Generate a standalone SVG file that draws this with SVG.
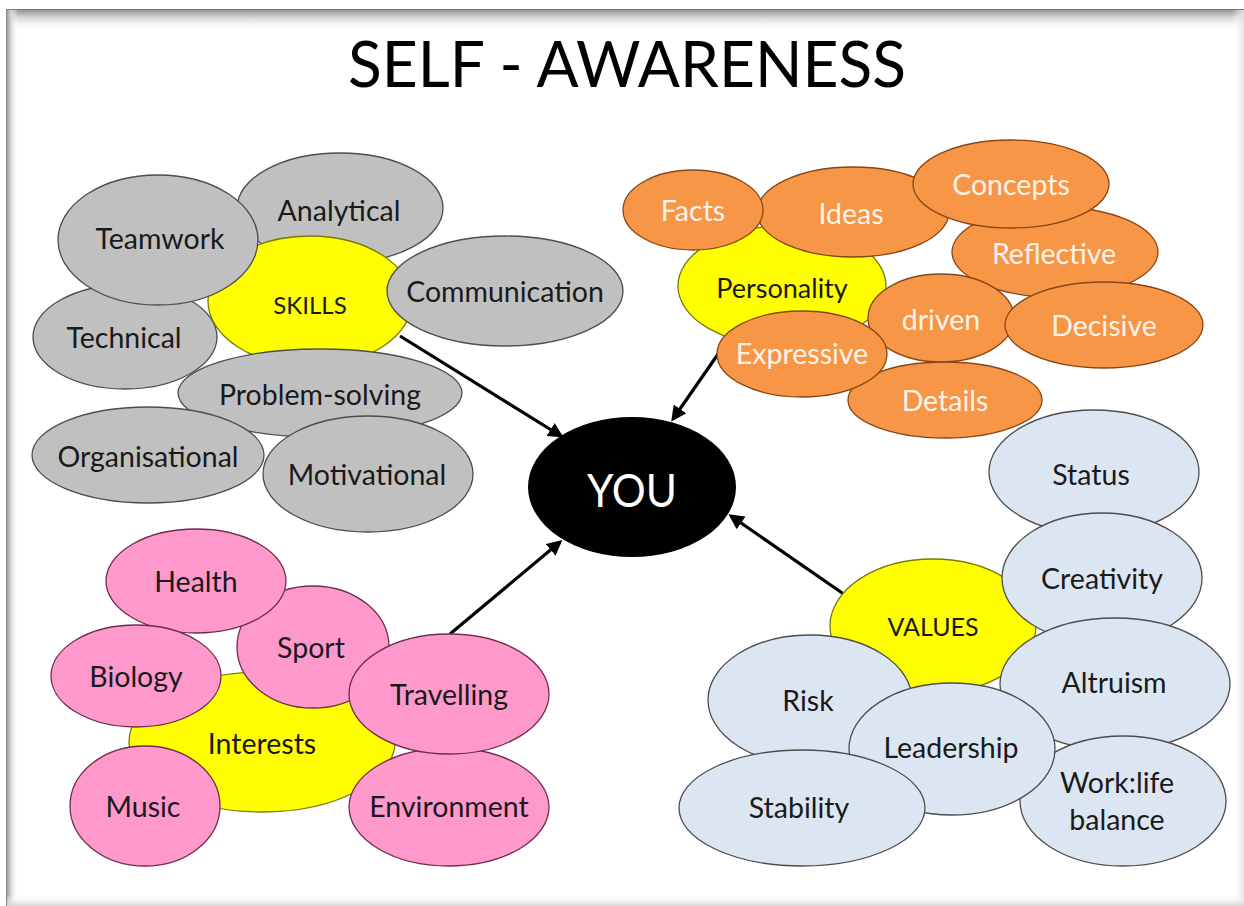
<svg xmlns="http://www.w3.org/2000/svg" width="1244" height="906" viewBox="0 0 1244 906">
  <defs>
    <style>
      text { font-family: Lato, "Liberation Sans", sans-serif; text-anchor: middle; dominant-baseline: central; }
      .lbl { font-size: 28.5px; fill: #1a1a1a; }
      .hub-lbl { font-size: 24px; fill: #1a1a1a; }
      .wlbl { font-size: 28.5px; fill: #fdf3ea; }
      .skill { fill: #c0c0c0; stroke: #4d4d4d; stroke-width: 1.3; }
      .pers { fill: #f79646; stroke: #8a4516; stroke-width: 1.3; }
      .intr { fill: #ff99cc; stroke: #6e2d4e; stroke-width: 1.3; }
      .val { fill: #dce6f2; stroke: #4d4d4d; stroke-width: 1.3; }
      .hub { fill: #ffff00; stroke: #7a7a10; stroke-width: 1.3; }
      .conn line { stroke: #000; stroke-width: 3.2; marker-end: url(#arrow); }
    </style>
    <marker id="arrow" viewBox="0 0 10 10" refX="8" refY="5" markerWidth="4.8" markerHeight="4.8" orient="auto" markerUnits="strokeWidth">
      <path d="M0,0 L10,5 L0,10 z" fill="#000"/>
    </marker>
    <linearGradient id="shTop" x1="0" y1="0" x2="0" y2="1">
      <stop offset="0" stop-color="#8c8c8c"/>
      <stop offset="0.35" stop-color="#d0d0d0"/>
      <stop offset="1" stop-color="#ffffff" stop-opacity="0"/>
    </linearGradient>
    <linearGradient id="shLeft" x1="0" y1="0" x2="1" y2="0">
      <stop offset="0" stop-color="#909090"/>
      <stop offset="0.4" stop-color="#d4d4d4"/>
      <stop offset="1" stop-color="#ffffff" stop-opacity="0"/>
    </linearGradient>
    <linearGradient id="shRight" x1="1" y1="0" x2="0" y2="0">
      <stop offset="0" stop-color="#e2e2e2"/>
      <stop offset="1" stop-color="#ffffff" stop-opacity="0"/>
    </linearGradient>
    <linearGradient id="shBottom" x1="0" y1="1" x2="0" y2="0">
      <stop offset="0" stop-color="#d8d8d8"/>
      <stop offset="1" stop-color="#ffffff" stop-opacity="0"/>
    </linearGradient>
  </defs>

  <!-- page and inset frame shadow -->
  <rect width="1244" height="906" fill="#ffffff"/>
  <rect x="6" y="9" width="1238" height="22" fill="url(#shTop)"/>
  <rect x="6" y="9" width="12" height="897" fill="url(#shLeft)"/>
  <rect x="1232" y="9" width="12" height="897" fill="url(#shRight)"/>
  <rect x="6" y="894" width="1238" height="12" fill="url(#shBottom)"/>
  <line x1="6" y1="9.5" x2="1244" y2="9.5" stroke="#7a7a7a" stroke-width="1"/>
  <line x1="6.5" y1="9" x2="6.5" y2="906" stroke="#8a8a8a" stroke-width="1"/>

  <text id="title" x="627" y="62" font-size="64" fill="#000" textLength="558" lengthAdjust="spacingAndGlyphs">SELF - AWARENESS</text>

  <!-- connectors -->
  <g id="connectors" class="conn">
    <line x1="400" y1="336" x2="561" y2="436"/>
    <line x1="725" y1="344" x2="673" y2="419"/>
    <line x1="450" y1="634" x2="560" y2="542"/>
    <line x1="848" y1="597" x2="731" y2="516"/>
  </g>

  <!-- skills cluster -->
  <g id="skills-cluster">
    <g id="analytical"><ellipse class="skill" cx="340" cy="208" rx="103" ry="55"/><text class="lbl" x="339" y="210">Analytical</text></g>
    <g id="technical"><ellipse class="skill" cx="125" cy="337" rx="92" ry="52"/><text class="lbl" x="124" y="337">Technical</text></g>
    <g id="skills"><ellipse class="hub" cx="310" cy="301" rx="102" ry="65"/><text class="hub-lbl" x="310" y="304">SKILLS</text></g>
    <g id="teamwork"><ellipse class="skill" cx="158" cy="240" rx="100" ry="65"/><text class="lbl" x="160" y="238">Teamwork</text></g>
    <g id="communication"><ellipse class="skill" cx="505" cy="291" rx="118" ry="55"/><text class="lbl" x="505" y="291">Communication</text></g>
    <g id="problem-solving"><ellipse class="skill" cx="320" cy="393" rx="142" ry="44"/><text class="lbl" x="320" y="394">Problem-solving</text></g>
    <g id="organisational"><ellipse class="skill" cx="148" cy="455" rx="116" ry="48"/><text class="lbl" x="148" y="456">Organisational</text></g>
    <g id="motivational"><ellipse class="skill" cx="368" cy="474" rx="105" ry="58"/><text class="lbl" x="367" y="474">Motivational</text></g>
  </g>

  <!-- personality cluster -->
  <g id="personality-cluster">
    <g id="personality"><ellipse class="hub" cx="782" cy="286" rx="104" ry="60"/><text class="lbl" x="782" y="287" style="font-size:27px">Personality</text></g>
    <g id="details"><ellipse class="pers" cx="945" cy="400" rx="97" ry="38"/><text class="wlbl" x="945" y="400">Details</text></g>
    <g id="reflective"><ellipse class="pers" cx="1055" cy="252" rx="103" ry="45"/><text class="wlbl" x="1054" y="253">Reflective</text></g>
    <g id="ideas"><ellipse class="pers" cx="853" cy="212" rx="96" ry="45"/><text class="wlbl" x="851" y="213">Ideas</text></g>
    <g id="facts"><ellipse class="pers" cx="693" cy="210" rx="70" ry="40"/><text class="wlbl" x="693" y="210">Facts</text></g>
    <g id="concepts"><ellipse class="pers" cx="1011" cy="184" rx="98" ry="44"/><text class="wlbl" x="1011" y="184">Concepts</text></g>
    <g id="driven"><ellipse class="pers" cx="941" cy="318" rx="73" ry="44"/><text class="wlbl" x="941" y="319">driven</text></g>
    <g id="decisive"><ellipse class="pers" cx="1104" cy="325" rx="99" ry="43"/><text class="wlbl" x="1104" y="325">Decisive</text></g>
    <g id="expressive"><ellipse class="pers" cx="802" cy="354" rx="85" ry="43"/><text class="wlbl" x="802" y="353">Expressive</text></g>
  </g>

  <!-- centre -->
  <g id="you"><ellipse cx="632" cy="487" rx="104" ry="70" fill="#000"/><text x="632" y="489" font-size="47" fill="#ffffff" textLength="90" lengthAdjust="spacingAndGlyphs">YOU</text></g>

  <!-- interests cluster -->
  <g id="interests-cluster">
    <g id="interests"><ellipse class="hub" cx="262" cy="742" rx="133" ry="70"/><text class="lbl" x="262" y="743">Interests</text></g>
    <g id="sport"><ellipse class="intr" cx="313" cy="647" rx="76" ry="61"/><text class="lbl" x="311" y="647">Sport</text></g>
    <g id="health"><ellipse class="intr" cx="196" cy="581" rx="90" ry="52"/><text class="lbl" x="196" y="581">Health</text></g>
    <g id="biology"><ellipse class="intr" cx="136" cy="676" rx="85" ry="51"/><text class="lbl" x="136" y="676">Biology</text></g>
    <g id="music"><ellipse class="intr" cx="145" cy="806" rx="75" ry="60"/><text class="lbl" x="143" y="806">Music</text></g>
    <g id="environment"><ellipse class="intr" cx="449" cy="807" rx="100" ry="59"/><text class="lbl" x="449" y="806">Environment</text></g>
    <g id="travelling"><ellipse class="intr" cx="449" cy="694" rx="100" ry="60"/><text class="lbl" x="449" y="694">Travelling</text></g>
  </g>

  <!-- values cluster -->
  <g id="values-cluster">
    <g id="values"><ellipse class="hub" cx="933" cy="626" rx="103" ry="67"/><text class="lbl" x="933" y="626" style="font-size:25px">VALUES</text></g>
    <g id="status"><ellipse class="val" cx="1094" cy="472" rx="105" ry="62"/><text class="lbl" x="1091" y="474">Status</text></g>
    <g id="creativity"><ellipse class="val" cx="1102" cy="578" rx="100" ry="65"/><text class="lbl" x="1102" y="578">Creativity</text></g>
    <g id="altruism"><ellipse class="val" cx="1115" cy="684" rx="115" ry="66"/><text class="lbl" x="1114" y="682">Altruism</text></g>
    <g id="worklife"><ellipse class="val" cx="1123" cy="801" rx="103" ry="65"/><text class="lbl" x="1117" y="782">Work:life</text><text class="lbl" x="1117" y="819">balance</text></g>
    <g id="risk"><ellipse class="val" cx="810" cy="700" rx="102" ry="65"/><text class="lbl" x="808" y="700">Risk</text></g>
    <g id="leadership"><ellipse class="val" cx="952" cy="749" rx="103" ry="66"/><text class="lbl" x="951" y="747">Leadership</text></g>
    <g id="stability"><ellipse class="val" cx="802" cy="808" rx="123" ry="58"/><text class="lbl" x="799" y="807">Stability</text></g>
  </g>
</svg>
